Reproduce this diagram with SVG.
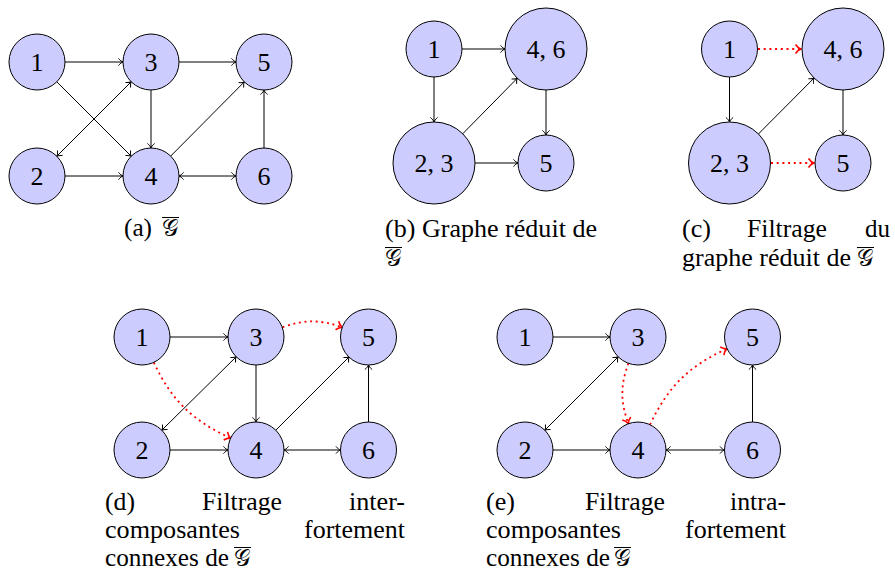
<svg xmlns="http://www.w3.org/2000/svg" width="895" height="578" viewBox="0 0 895 578">
<style>
.node circle{fill:#ccccff;stroke:#000;stroke-width:1}
.node text{font-family:"Liberation Serif",serif;font-size:26px;text-anchor:middle;fill:#000}
.e{fill:none;stroke:#000;stroke-width:1;marker-end:url(#ar)}
.e2{fill:none;stroke:#000;stroke-width:1;marker-end:url(#ar);marker-start:url(#ar)}
.r{fill:none;stroke:#f00;stroke-width:1.8;stroke-dasharray:2 3.7;marker-end:url(#arr)}
.cap{font-family:"Liberation Serif",serif;font-size:26px;fill:#000}
.g{font-family:"DejaVu Serif","DejaVu Sans",serif;font-size:23px;fill:#000}
.ol{stroke:#000;stroke-width:1}
</style>
<defs>
<marker id="ar" viewBox="-6 -5 7 10" refX="0" refY="0" markerWidth="7" markerHeight="10" markerUnits="userSpaceOnUse" orient="auto-start-reverse">
<path d="M-4.5,-3.6 C-3,-1.6 -1.2,-0.4 0,0 C-1.2,0.4 -3,1.6 -4.5,3.6" fill="none" stroke="#000" stroke-width="1"/>
</marker>
<marker id="arr" viewBox="-7 -6 8 12" refX="0" refY="0" markerWidth="8" markerHeight="12" markerUnits="userSpaceOnUse" orient="auto">
<path d="M-5.5,-4.5 C-3.8,-2 -1.5,-0.5 0,0 C-1.5,0.5 -3.8,2 -5.5,4.5" fill="none" stroke="#f00" stroke-width="1.6"/>
</marker>
</defs>

<!-- (a) -->
<g id="panel-a">
<g id="a-connectors">
<line class="e" x1="65" y1="62" x2="123" y2="62"/>
<line class="e" x1="179" y1="62" x2="236" y2="62"/>
<line class="e" x1="56.8" y1="81.8" x2="131.2" y2="156.2"/>
<line class="e2" x1="131.2" y1="81.8" x2="56.8" y2="156.2"/>
<line class="e" x1="151" y1="90" x2="151" y2="148"/>
<line class="e" x1="65" y1="176" x2="123" y2="176"/>
<line class="e" x1="170.7" y1="156.1" x2="244.3" y2="81.9"/>
<line class="e" x1="264" y1="148" x2="264" y2="90"/>
<line class="e2" x1="179" y1="176" x2="236" y2="176"/>
</g>
<g id="a-n1" class="node"><circle cx="37" cy="62" r="28"/><text x="37" y="71">1</text></g>
<g id="a-n3" class="node"><circle cx="151" cy="62" r="28"/><text x="151" y="71">3</text></g>
<g id="a-n5" class="node"><circle cx="264" cy="62" r="28"/><text x="264" y="71">5</text></g>
<g id="a-n2" class="node"><circle cx="37" cy="176" r="28"/><text x="37" y="185">2</text></g>
<g id="a-n4" class="node"><circle cx="151" cy="176" r="28"/><text x="151" y="185">4</text></g>
<g id="a-n6" class="node"><circle cx="264" cy="176" r="28"/><text x="264" y="185">6</text></g>
<g id="a-caption">
<text class="cap" x="124" y="236" textLength="28" lengthAdjust="spacingAndGlyphs">(a)</text>
<text class="g" x="162" y="236">𝒢</text>
<line class="ol" x1="162" y1="217.5" x2="179" y2="217.5"/>
</g>
</g>

<!-- (b) -->
<g id="panel-b">
<g id="b-connectors">
<line class="e" x1="462" y1="49" x2="505" y2="49"/>
<line class="e" x1="434" y1="77" x2="434" y2="122"/>
<line class="e" x1="462.7" y1="133.8" x2="517.3" y2="78.2"/>
<line class="e" x1="546" y1="90" x2="546" y2="135"/>
<line class="e" x1="475" y1="163" x2="518" y2="163"/>
</g>
<g id="b-n1" class="node"><circle cx="434" cy="49" r="28"/><text x="434" y="58">1</text></g>
<g id="b-n46" class="node"><circle cx="546" cy="49" r="41"/><text x="546" y="58">4, 6</text></g>
<g id="b-n23" class="node"><circle cx="434" cy="163" r="41"/><text x="434" y="172">2, 3</text></g>
<g id="b-n5" class="node"><circle cx="546" cy="163" r="28"/><text x="546" y="172">5</text></g>
<g id="b-caption">
<text class="cap" x="385" y="237" textLength="212" lengthAdjust="spacingAndGlyphs">(b) Graphe réduit de</text>
<text class="g" x="385" y="266">𝒢</text>
<line class="ol" x1="385" y1="247.5" x2="402" y2="247.5"/>
</g>
</g>

<!-- (c) -->
<g id="panel-c">
<g id="c-connectors">
<line class="r" x1="758" y1="49" x2="801" y2="49"/>
<line class="e" x1="729.5" y1="77" x2="729.5" y2="122"/>
<line class="e" x1="758.4" y1="134" x2="814.1" y2="78"/>
<line class="e" x1="843" y1="90" x2="843" y2="135"/>
<line class="r" x1="771" y1="163" x2="814" y2="163"/>
</g>
<g id="c-n1" class="node"><circle cx="729.5" cy="49" r="28"/><text x="729.5" y="58">1</text></g>
<g id="c-n46" class="node"><circle cx="843" cy="49" r="41"/><text x="843" y="58">4, 6</text></g>
<g id="c-n23" class="node"><circle cx="729.5" cy="163" r="41"/><text x="729.5" y="172">2, 3</text></g>
<g id="c-n5" class="node"><circle cx="843" cy="163" r="28"/><text x="843" y="172">5</text></g>
<g id="c-caption">
<text class="cap" x="682" y="237" textLength="29" lengthAdjust="spacingAndGlyphs">(c)</text>
<text class="cap" x="747" y="237" textLength="80" lengthAdjust="spacingAndGlyphs">Filtrage</text>
<text class="cap" x="865" y="237" textLength="25" lengthAdjust="spacingAndGlyphs">du</text>
<text class="cap" x="682" y="266" textLength="169" lengthAdjust="spacingAndGlyphs">graphe réduit de</text>
<text class="g" x="857" y="266">𝒢</text>
<line class="ol" x1="857" y1="247.5" x2="874" y2="247.5"/>
</g>
</g>

<!-- (d) -->
<g id="panel-d">
<g id="d-connectors">
<line class="e" x1="170" y1="337" x2="228" y2="337"/>
<line class="e" x1="256" y1="365" x2="256" y2="422"/>
<line class="e" x1="170" y1="450" x2="228" y2="450"/>
<line class="e" x1="275.8" y1="430.2" x2="349.2" y2="356.8"/>
<line class="e" x1="368.5" y1="422" x2="368.5" y2="365"/>
<line class="e2" x1="236.2" y1="356.8" x2="161.8" y2="430.2"/>
<line class="e2" x1="284" y1="450" x2="340.5" y2="450"/>
<path class="r" d="M153.8,362.4 C171.6,400.6 192.4,420.4 230.6,438.2"/>
<path class="r" d="M282.3,327.4 C304.3,319.4 320.3,319.4 342.3,327.4"/>
</g>
<g id="d-n1" class="node"><circle cx="142" cy="337" r="28"/><text x="142" y="346">1</text></g>
<g id="d-n3" class="node"><circle cx="256" cy="337" r="28"/><text x="256" y="346">3</text></g>
<g id="d-n5" class="node"><circle cx="368.5" cy="337" r="28"/><text x="368.5" y="346">5</text></g>
<g id="d-n2" class="node"><circle cx="142" cy="450" r="28"/><text x="142" y="459">2</text></g>
<g id="d-n4" class="node"><circle cx="256" cy="450" r="28"/><text x="256" y="459">4</text></g>
<g id="d-n6" class="node"><circle cx="368.5" cy="450" r="28"/><text x="368.5" y="459">6</text></g>
<g id="d-caption">
<text class="cap" x="105" y="510" textLength="30" lengthAdjust="spacingAndGlyphs">(d)</text>
<text class="cap" x="202" y="510" textLength="80" lengthAdjust="spacingAndGlyphs">Filtrage</text>
<text class="cap" x="349" y="510" textLength="56" lengthAdjust="spacingAndGlyphs">inter-</text>
<text class="cap" x="105" y="538" textLength="135" lengthAdjust="spacingAndGlyphs">composantes</text>
<text class="cap" x="304" y="538" textLength="101" lengthAdjust="spacingAndGlyphs">fortement</text>
<text class="cap" x="105" y="566" textLength="124" lengthAdjust="spacingAndGlyphs">connexes de</text>
<text class="g" x="234" y="566">𝒢</text>
<line class="ol" x1="234" y1="547.5" x2="251" y2="547.5"/>
</g>
</g>

<!-- (e) -->
<g id="panel-e">
<g id="e-connectors">
<line class="e" x1="553" y1="337" x2="610" y2="337"/>
<line class="e" x1="553" y1="450" x2="610" y2="450"/>
<line class="e" x1="752.5" y1="422" x2="752.5" y2="365"/>
<line class="e2" x1="618.2" y1="356.8" x2="544.8" y2="430.2"/>
<line class="e2" x1="666" y1="450" x2="724.5" y2="450"/>
<path class="r" d="M628.4,363.3 C620.3,385.5 620.3,401.5 628.4,423.7"/>
<path class="r" d="M650,424.7 C668.2,386.4 688.5,366.3 727,348.7"/>
</g>
<g id="e-n1" class="node"><circle cx="525" cy="337" r="28"/><text x="525" y="346">1</text></g>
<g id="e-n3" class="node"><circle cx="638" cy="337" r="28"/><text x="638" y="346">3</text></g>
<g id="e-n5" class="node"><circle cx="752.5" cy="337" r="28"/><text x="752.5" y="346">5</text></g>
<g id="e-n2" class="node"><circle cx="525" cy="450" r="28"/><text x="525" y="459">2</text></g>
<g id="e-n4" class="node"><circle cx="638" cy="450" r="28"/><text x="638" y="459">4</text></g>
<g id="e-n6" class="node"><circle cx="752.5" cy="450" r="28"/><text x="752.5" y="459">6</text></g>
<g id="e-caption">
<text class="cap" x="486" y="510" textLength="29" lengthAdjust="spacingAndGlyphs">(e)</text>
<text class="cap" x="585" y="510" textLength="80" lengthAdjust="spacingAndGlyphs">Filtrage</text>
<text class="cap" x="730" y="510" textLength="56" lengthAdjust="spacingAndGlyphs">intra-</text>
<text class="cap" x="486" y="538" textLength="135" lengthAdjust="spacingAndGlyphs">composantes</text>
<text class="cap" x="685" y="538" textLength="101" lengthAdjust="spacingAndGlyphs">fortement</text>
<text class="cap" x="486" y="566" textLength="124" lengthAdjust="spacingAndGlyphs">connexes de</text>
<text class="g" x="614" y="566">𝒢</text>
<line class="ol" x1="614" y1="547.5" x2="631" y2="547.5"/>
</g>
</g>
</svg>
